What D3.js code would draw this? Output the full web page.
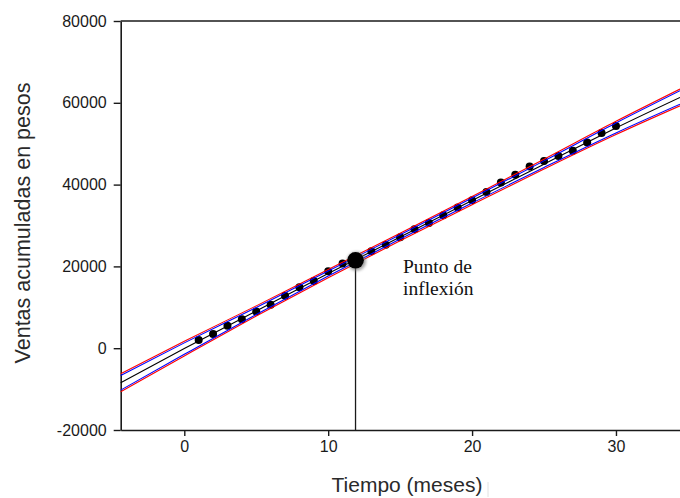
<!DOCTYPE html>
<html>
<head>
<meta charset="utf-8">
<script src="https://cdn.jsdelivr.net/npm/d3@7/dist/d3.min.js"></script>
<style>
  html, body { margin: 0; padding: 0; background: #fff; }
  svg { display: block; }
</style>
</head>
<body>
<script>
// ---- data ----
const months = [1,2,3,4,5,6,7,8,9,10,11,12,13,14,15,16,17,18,19,20,21,22,23,24,25,26,27,28,29,30];
const sales  = [2000,3500,5500,7100,9000,10600,12800,14900,16400,18800,20700,21800,23700,25300,27100,29100,30600,32500,34400,36200,38200,40500,42400,44400,45800,47000,48300,50300,52600,54300];

const curveX    = [-4.42, 0, 5, 10, 15, 20, 25, 30, 34.45];
const fitLine   = [-8450, -100, 9100, 18250, 27200, 36100, 45000, 53850, 61300];
const redUpper  = [-6250, 1700, 10350, 19270, 28120, 37100, 46200, 55470, 63350];
const redLower  = [-10650, -1900, 7850, 17230, 26280, 35100, 43800, 52230, 59250];
const blueUpper = [-6650, 1300, 9950, 18870, 27720, 36700, 45800, 55070, 62950];
const blueLower = [-10250, -1500, 8250, 17630, 26680, 35500, 44200, 52630, 59650];

const inflexion = { x: 11.9, y: 21500 };
const inflexionLabel = ["Punto de", "inflexión"];

const xTicks = [0, 10, 20, 30];
const yTicks = [-20000, 0, 20000, 40000, 60000, 80000];
const xDomain = [-4.42, 34.45];
const yDomain = [-20000, 80000];
const xTitle = "Tiempo (meses)";
const yTitle = "Ventas acumuladas en pesos";

// ---- drawing ----
const W = 680, H = 498;
const svg = d3.select("body").append("svg").attr("width", W).attr("height", H);

const x = d3.scaleLinear().domain(xDomain).range([120.7, 680]);
const y = d3.scaleLinear().domain(yDomain).range([430, 21]);

const defs = svg.append("defs");
defs.append("filter").attr("id", "blur").attr("x", "-50%").attr("y", "-50%").attr("width", "200%").attr("height", "200%")
  .append("feGaussianBlur").attr("stdDeviation", 1.6);

// axes
const xAxis = svg.append("g").attr("transform", `translate(0,${y(yDomain[0])})`)
  .call(d3.axisBottom(x).tickValues(xTicks).tickSize(6).tickPadding(5).tickSizeOuter(0));
const yAxis = svg.append("g").attr("transform", `translate(${x(xDomain[0])},0)`)
  .call(d3.axisLeft(y).tickValues(yTicks).tickSize(7).tickPadding(7).tickFormat((d) => String(d)).tickSizeOuter(0));
[xAxis, yAxis].forEach(g => {
  g.select(".domain").attr("stroke", "#1a1a1a").attr("stroke-width", 1.6);
  g.selectAll(".tick line").attr("stroke", "#1a1a1a").attr("stroke-width", 1.4);
  g.selectAll(".tick text").attr("fill", "#1a1a1a")
    .style("font-family", "'Liberation Sans', Arial, sans-serif").style("font-size", "16px");
});
// top frame line
svg.append("line")
  .attr("x1", x(xDomain[0])).attr("x2", x(xDomain[1]))
  .attr("y1", y(yDomain[1])).attr("y2", y(yDomain[1]))
  .attr("stroke", "#1a1a1a").attr("stroke-width", 1.6);

// titles
svg.append("text").text(xTitle)
  .attr("x", 407).attr("y", 492).attr("text-anchor", "middle")
  .attr("fill", "#2a2a2a")
  .style("font-family", "'Liberation Sans', Arial, sans-serif").style("font-size", "21px");
svg.append("text").text(yTitle)
  .attr("transform", "translate(30,223) rotate(-90)").attr("text-anchor", "middle")
  .attr("fill", "#2a2a2a")
  .style("font-family", "'Liberation Sans', Arial, sans-serif").style("font-size", "21.5px");
// faint artifact mark after x title
svg.append("line").attr("x1", 488).attr("x2", 488).attr("y1", 482).attr("y2", 497)
  .attr("stroke", "#e2e2e2").attr("stroke-width", 1);

// vertical line from inflexion point
svg.append("line")
  .attr("x1", x(inflexion.x)).attr("x2", x(inflexion.x))
  .attr("y1", y(inflexion.y)).attr("y2", y(yDomain[0]))
  .attr("stroke", "#1a1a1a").attr("stroke-width", 1.3);

// data dots
svg.append("g").selectAll("circle").data(months).join("circle")
  .attr("cx", (d) => x(d)).attr("cy", (d, i) => y(sales[i])).attr("r", 4)
  .attr("fill", "#000");

// band and fit lines
const line = d3.line().x((d) => x(d[0])).y((d) => y(d[1])).curve(d3.curveMonotoneX);
const series = [
  { v: redUpper, c: "#ff0000" },
  { v: redLower, c: "#ff0000" },
  { v: blueUpper, c: "#0000ff" },
  { v: blueLower, c: "#0000ff" },
  { v: fitLine, c: "#000000" }
];
svg.append("g").selectAll("path").data(series).join("path")
  .attr("d", (s) => line(curveX.map((xv, i) => [xv, s.v[i]])))
  .attr("fill", "none").attr("stroke", (s) => s.c).attr("stroke-width", 1.1);

// inflexion point marker with soft shadow
svg.append("circle").attr("cx", x(inflexion.x) + 1).attr("cy", y(inflexion.y) + 1).attr("r", 9.5)
  .attr("fill", "#777").attr("opacity", 0.7).attr("filter", "url(#blur)");
svg.append("circle").attr("cx", x(inflexion.x)).attr("cy", y(inflexion.y)).attr("r", 8.3)
  .attr("fill", "#000");

// label
const lab = svg.append("text").attr("fill", "#111")
  .style("font-family", "'Liberation Serif', 'Times New Roman', serif").style("font-size", "19.5px");
lab.selectAll("tspan").data(inflexionLabel).join("tspan")
  .attr("x", 403).attr("y", (d, i) => 273 + i * 21.5).text((d) => d);
</script>
</body>
</html>
